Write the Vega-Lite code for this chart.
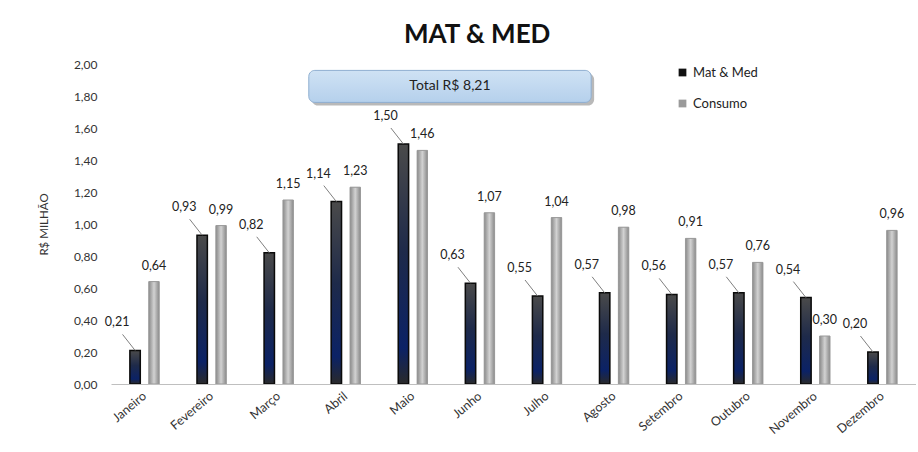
{
  "$schema": "https://vega.github.io/schema/vega-lite/v6.json",
  "width": 805,
  "height": 320,
  "padding": {"left": 38, "top": 22, "right": 0, "bottom": 4},
  "background": "white",
  "title": {"text": "MAT & MED", "fontSize": 26, "font": "Lato", "fontWeight": "bold", "color": "#111111", "anchor": "middle", "frame": "bounds", "offset": 10},
  "config": {
    "locale": {"number": {"decimal": ",", "thousands": ".", "grouping": [3], "currency": ["R$", ""]}},
    "view": {"stroke": null},
    "font": "Lato",
    "axisY": {"title": "R$ MILHÃO", "titleFontWeight": "normal", "titleFontSize": 11.5, "titleColor": "#333333", "titlePadding": 24, "values": [0, 0.2, 0.4, 0.6, 0.8, 1.0, 1.2, 1.4, 1.6, 1.8, 2.0], "format": ".2f", "labelFontSize": 12, "labelColor": "#333333", "labelPadding": 14, "grid": false, "domain": false, "ticks": false, "labelOverlap": false}
  },
  "datasets": {
    "bars": [
      {"mes": "Janeiro", "serie": "Mat & Med", "valor": 0.21},
      {"mes": "Janeiro", "serie": "Consumo", "valor": 0.64},
      {"mes": "Fevereiro", "serie": "Mat & Med", "valor": 0.93},
      {"mes": "Fevereiro", "serie": "Consumo", "valor": 0.99},
      {"mes": "Março", "serie": "Mat & Med", "valor": 0.82},
      {"mes": "Março", "serie": "Consumo", "valor": 1.15},
      {"mes": "Abril", "serie": "Mat & Med", "valor": 1.14},
      {"mes": "Abril", "serie": "Consumo", "valor": 1.23},
      {"mes": "Maio", "serie": "Mat & Med", "valor": 1.50},
      {"mes": "Maio", "serie": "Consumo", "valor": 1.46},
      {"mes": "Junho", "serie": "Mat & Med", "valor": 0.63},
      {"mes": "Junho", "serie": "Consumo", "valor": 1.07},
      {"mes": "Julho", "serie": "Mat & Med", "valor": 0.55},
      {"mes": "Julho", "serie": "Consumo", "valor": 1.04},
      {"mes": "Agosto", "serie": "Mat & Med", "valor": 0.57},
      {"mes": "Agosto", "serie": "Consumo", "valor": 0.98},
      {"mes": "Setembro", "serie": "Mat & Med", "valor": 0.56},
      {"mes": "Setembro", "serie": "Consumo", "valor": 0.91},
      {"mes": "Outubro", "serie": "Mat & Med", "valor": 0.57},
      {"mes": "Outubro", "serie": "Consumo", "valor": 0.76},
      {"mes": "Novembro", "serie": "Mat & Med", "valor": 0.54},
      {"mes": "Novembro", "serie": "Consumo", "valor": 0.30},
      {"mes": "Dezembro", "serie": "Mat & Med", "valor": 0.20},
      {"mes": "Dezembro", "serie": "Consumo", "valor": 0.96}
    ]
  },
  "layer": [
    {
      "data": {"values": [{"texto": "Total R$ 8,21"}]},
      "mark": {"type": "rect", "color": "#7f7f7f", "opacity": 0.55, "cornerRadius": 6, "xOffset": -34, "x2Offset": -20, "yOffset": 3, "y2Offset": 3},
      "encoding": {
        "x": {"datum": "Abril", "type": "nominal"},
        "x2": {"datum": "Agosto"},
        "y": {"datum": 1.96, "type": "quantitative", "title": "R$ MILHÃO"},
        "y2": {"datum": 1.76}
      }
    },
    {
      "data": {"values": [{"texto": "Total R$ 8,21"}]},
      "mark": {"type": "rect", "cornerRadius": 6, "stroke": "#8eaed0", "strokeWidth": 1, "xOffset": -37, "x2Offset": -23,
        "fill": {"gradient": "linear", "x1": 0, "y1": 0, "x2": 0, "y2": 1, "stops": [{"offset": 0, "color": "#cfe2f4"}, {"offset": 1, "color": "#b5d0ec"}]}},
      "encoding": {
        "x": {"datum": "Abril", "type": "nominal"},
        "x2": {"datum": "Agosto"},
        "y": {"datum": 1.96, "type": "quantitative", "title": "R$ MILHÃO"},
        "y2": {"datum": 1.76}
      }
    },
    {
      "data": {"values": [{"texto": "Total R$ 8,21"}]},
      "mark": {"type": "text", "fontSize": 14, "color": "#222222", "dx": -30, "baseline": "middle"},
      "encoding": {
        "x": {"datum": "Junho", "type": "nominal"},
        "y": {"datum": 1.86, "type": "quantitative", "title": "R$ MILHÃO"},
        "text": {"field": "texto", "type": "nominal"}
      }
    },
    {
      "data": {"name": "bars"},
      "layer": [
        {
          "mark": {"type": "bar"},
          "encoding": {
            "color": {"field": "serie", "type": "nominal",
              "scale": {"domain": ["Mat & Med", "Consumo"], "range": ["#111111", "#9a9a9a"]},
              "legend": {"title": null, "orient": "none", "legendX": 565, "legendY": 2, "direction": "vertical", "symbolType": "square", "symbolSize": 60, "labelFontSize": 13, "labelColor": "#222222", "labelOffset": 4, "rowPadding": 17, "symbolStrokeWidth": 0}}
          }
        },
        {
          "transform": [{"filter": "datum.serie === 'Mat & Med'"}],
          "mark": {"type": "bar", "stroke": "#0a0a0a", "strokeWidth": 1.5,
            "fill": {"gradient": "linear", "x1": 0, "y1": 0, "x2": 0, "y2": 1, "stops": [{"offset": 0, "color": "#4a4a4a"}, {"offset": 0.45, "color": "#1e2a4a"}, {"offset": 0.85, "color": "#0b2266"}, {"offset": 1, "color": "#2a2a2a"}]}}
        },
        {
          "transform": [{"filter": "datum.serie === 'Consumo'"}],
          "mark": {"type": "bar", "stroke": "#9a9a9a", "strokeWidth": 1,
            "fill": {"gradient": "linear", "x1": 0, "y1": 0, "x2": 1, "y2": 0, "stops": [{"offset": 0, "color": "#8a8a8a"}, {"offset": 0.5, "color": "#d2d2d2"}, {"offset": 1, "color": "#8a8a8a"}]}}
        },
        {
          "transform": [{"filter": "datum.serie === 'Mat & Med'"}],
          "mark": {"type": "rule", "color": "#7f7f7f", "strokeWidth": 1, "x2Offset": -22, "y2Offset": -16},
          "encoding": {
            "x2": {"field": "mes"},
            "y2": {"field": "valor"}
          }
        },
        {
          "transform": [{"filter": "datum.serie === 'Mat & Med'"}],
          "mark": {"type": "text", "fontSize": 12.5, "color": "#222222", "dx": -18, "dy": -28, "baseline": "middle"},
          "encoding": {
            "text": {"field": "valor", "type": "quantitative", "format": ".2f"}
          }
        },
        {
          "transform": [{"filter": "datum.serie === 'Consumo'"}],
          "mark": {"type": "text", "fontSize": 12.5, "color": "#222222", "dy": -16, "baseline": "middle"},
          "encoding": {
            "text": {"field": "valor", "type": "quantitative", "format": ".2f"}
          }
        }
      ],
      "encoding": {
        "x": {
          "field": "mes", "type": "nominal",
          "scale": {"domain": ["Janeiro","Fevereiro","Março","Abril","Maio","Junho","Julho","Agosto","Setembro","Outubro","Novembro","Dezembro"], "paddingInner": 0, "paddingOuter": 0},
          "axis": {"title": null, "labelAngle": -40, "labelAlign": "right", "labelBaseline": "middle", "labelPadding": 10, "labelFontSize": 12.5, "labelColor": "#333333", "ticks": false, "domainColor": "#bfbfbf", "domainWidth": 1}
        },
        "xOffset": {"field": "serie", "type": "nominal", "scale": {"domain": ["Mat & Med", "Consumo"], "paddingInner": 0.45, "paddingOuter": 1.035}},
        "y": {
          "field": "valor", "type": "quantitative", "title": "R$ MILHÃO",
          "scale": {"domain": [0, 2], "nice": false}
        }
      }
    }
  ]
}
